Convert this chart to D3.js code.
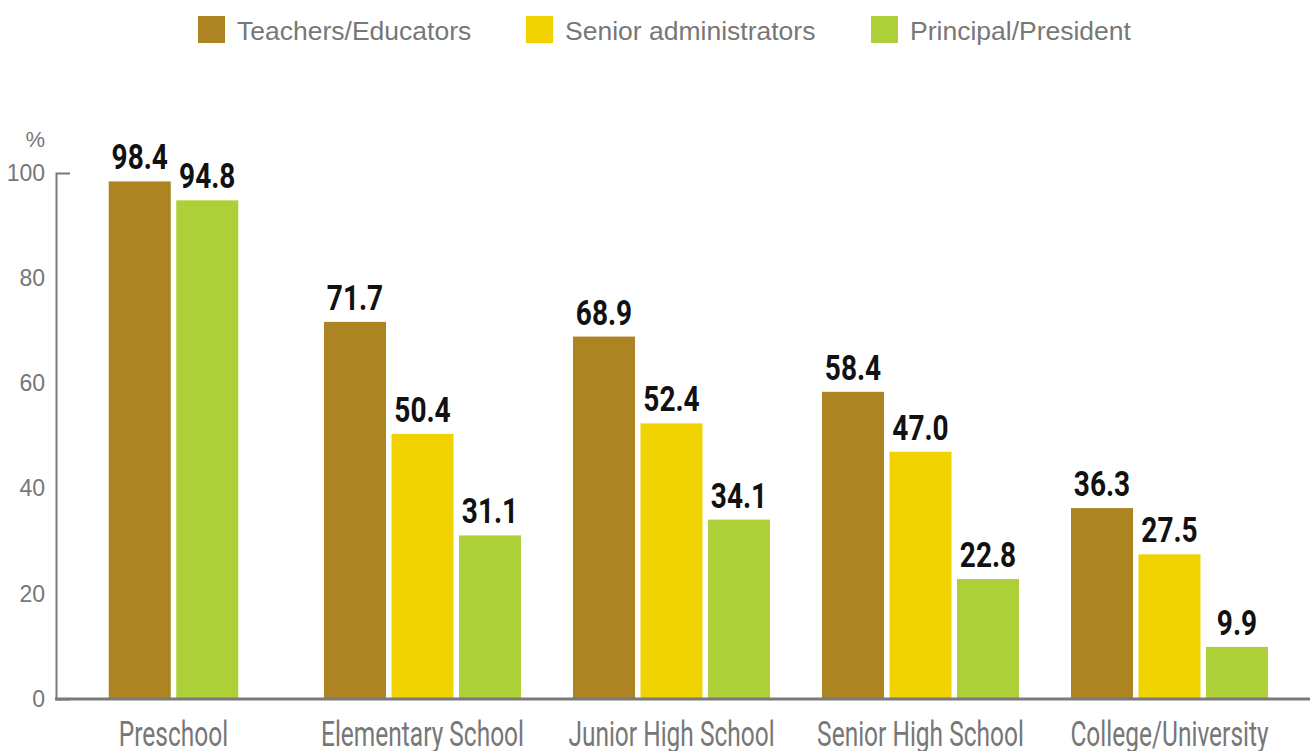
<!DOCTYPE html>
<html>
<head>
<meta charset="utf-8">
<script src="https://cdn.jsdelivr.net/npm/d3@7/dist/d3.min.js"></script>
<style>
  html, body { margin: 0; padding: 0; background: #ffffff; }
  svg { display: block; }
</style>
</head>
<body>
<svg id="chart" width="1310" height="751"></svg>
<script>
// Share of respondents by school level and role (%)
const categories = ["Preschool", "Elementary School", "Junior High School", "Senior High School", "College/University"];
const seriesNames = ["Teachers/Educators", "Senior administrators", "Principal/President"];
const teachers = [98.4, 71.7, 68.9, 58.4, 36.3];
const seniorAdmins = [null, 50.4, 52.4, 47.0, 27.5];
const principals = [94.8, 31.1, 34.1, 22.8, 9.9];
const yTicks = [0, 20, 40, 60, 80, 100];

const seriesValues = [teachers, seniorAdmins, principals];
const colors = ["#ad8422", "#f0d200", "#adcf37"];

const svg = d3.select("#chart");
const W = 1310, H = 751;
const yTop = 173, yBottom = 699;
const axisX = 56;

const y = d3.scaleLinear().domain([0, 100]).range([yBottom, yTop]);
const x0 = d3.scaleBand().domain(categories).range([49, 1294]).padding(0);

const barStep = 67.5, barGap = 5.5;
const labelFont = "Roboto, 'Liberation Sans', Arial, sans-serif";

// Legend
const legendX = [198, 526, 871];
const legend = svg.append("g").attr("class", "legend");
seriesNames.forEach((name, i) => {
  const g = legend.append("g").attr("transform", `translate(${legendX[i]},16)`);
  g.append("rect").attr("width", 27).attr("height", 27).attr("fill", colors[i]);
  g.append("text")
    .attr("x", 39).attr("y", 23.5)
    .attr("font-family", "'Liberation Sans', Arial, sans-serif")
    .attr("font-size", 26.5)
    .attr("fill", "#777777")
    .text(name);
});

// Bars, grouped per category; only series with data take a slot
const groups = svg.append("g").attr("class", "bars")
  .selectAll("g")
  .data(categories.map((c, ci) => ({
    category: c,
    bars: seriesValues.map((vals, si) => ({ series: si, value: vals[ci] }))
      .filter(d => d.value !== null)
  })))
  .join("g")
  .attr("transform", d => `translate(${x0(d.category) + x0.bandwidth() / 2},0)`);

groups.each(function (d) {
  const n = d.bars.length;
  const half = (n * barStep - barGap) / 2;
  const x1 = d3.scaleBand()
    .domain(d.bars.map(b => b.series))
    .range([-half, half])
    .paddingInner(barGap / barStep)
    .paddingOuter(0);
  const g = d3.select(this);
  g.selectAll("rect")
    .data(d.bars)
    .join("rect")
    .attr("x", b => x1(b.series))
    .attr("y", b => y(b.value))
    .attr("width", x1.bandwidth())
    .attr("height", b => y(0) - y(b.value))
    .attr("fill", b => colors[b.series]);

  g.selectAll("g.value")
    .data(d.bars)
    .join("g")
    .attr("class", "value")
    .attr("transform", b => `translate(${x1(b.series) + x1.bandwidth() / 2},${y(b.value) - 12}) scale(0.8,1)`)
    .append("text")
    .attr("text-anchor", "middle")
    .attr("font-family", labelFont)
    .attr("font-weight", 700)
    .attr("font-size", 35)
    .attr("fill", "#111111")
    .text(b => b.value.toFixed(1));
});

// Y axis: outer tick turned inward to cap the top of the line
const yAxis = d3.axisLeft(y)
  .tickValues(yTicks)
  .tickSizeInner(0)
  .tickSizeOuter(-14)
  .tickPadding(11)
  .tickFormat(d3.format("d"));

const yg = svg.append("g")
  .attr("transform", `translate(${axisX},0)`)
  .call(yAxis);
yg.select(".domain").attr("stroke", "#7a7a7a").attr("stroke-width", 2);
yg.selectAll(".tick line").remove();
yg.selectAll(".tick text")
  .attr("font-family", "'Liberation Sans', Arial, sans-serif")
  .attr("font-size", 23)
  .attr("fill", "#777777");

svg.append("text")
  .attr("x", 45).attr("y", 147)
  .attr("text-anchor", "end")
  .attr("font-family", "'Liberation Sans', Arial, sans-serif")
  .attr("font-size", 22)
  .attr("fill", "#777777")
  .text("%");

// Baseline across the full width
svg.append("line")
  .attr("x1", axisX - 1).attr("x2", W)
  .attr("y1", y(0)).attr("y2", y(0))
  .attr("stroke", "#7a7a7a")
  .attr("stroke-width", 3);

// Category labels
svg.append("g").attr("class", "categories")
  .selectAll("g")
  .data(categories)
  .join("g")
  .attr("transform", c => `translate(${x0(c) + x0.bandwidth() / 2},746) scale(0.7,1)`)
  .append("text")
  .attr("text-anchor", "middle")
  .attr("font-family", labelFont)
  .attr("font-size", 35)
  .attr("fill", "#777777")
  .text(c => c);
</script>
</body>
</html>
